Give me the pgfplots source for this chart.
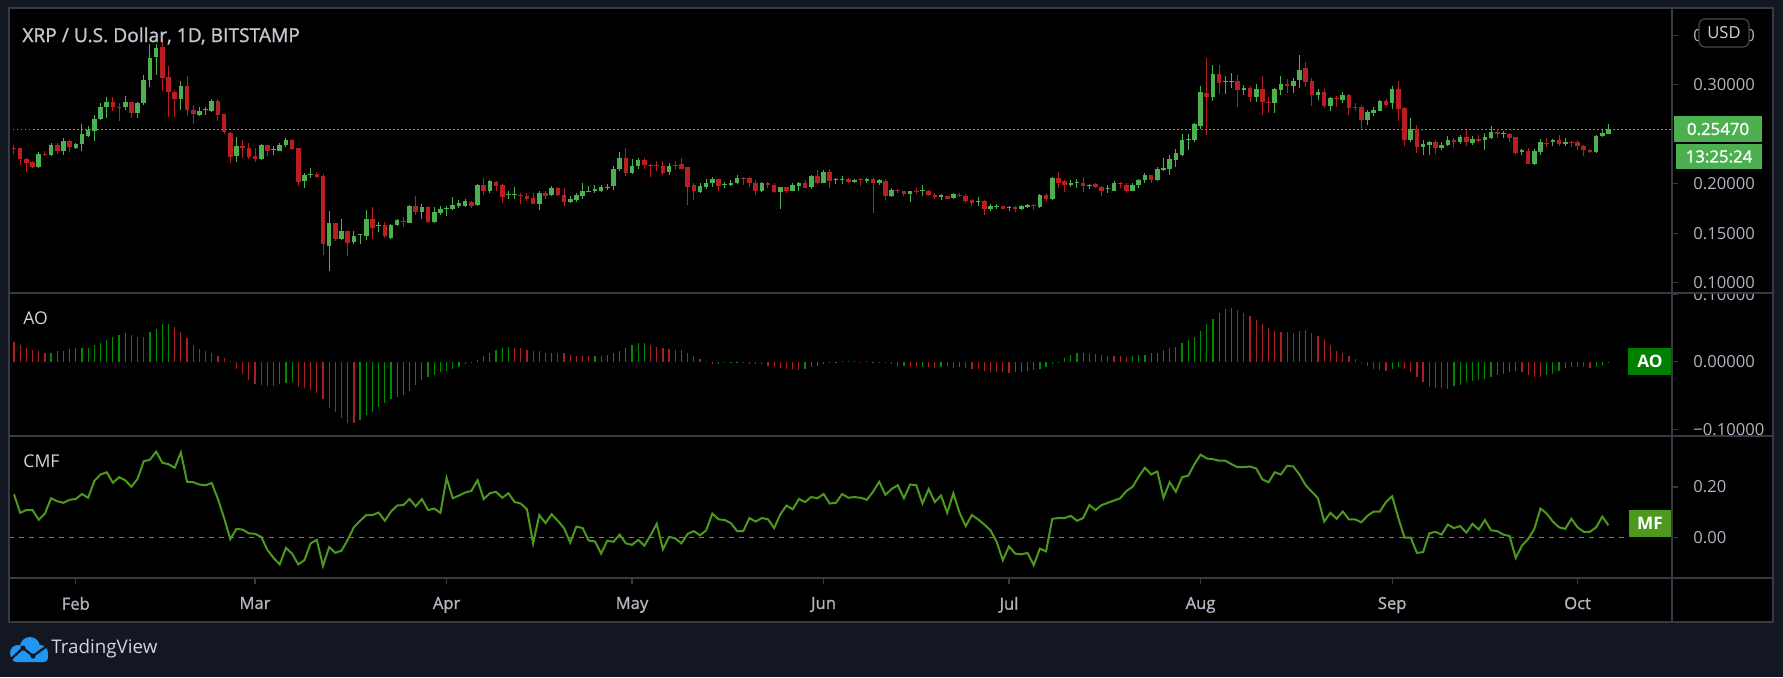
\documentclass[border=0pt]{standalone}
\usepackage{fontspec}
\setmainfont{Open Sans}
\newfontfamily\semib{Open Sans}[FakeBold=1.2]
\usepackage{pgfplots}
\usepackage{pgfplotstable}
\pgfplotsset{compat=1.18}
\definecolor{bgnavy}{RGB}{19,23,34}
\definecolor{framec}{RGB}{54,58,69}
\definecolor{txtlight}{RGB}{209,212,220}
\definecolor{titletxt}{RGB}{196,199,207}
\definecolor{ticktxt}{RGB}{178,181,190}
\definecolor{cgreen}{RGB}{76,175,80}
\definecolor{cred}{RGB}{185,30,32}
\definecolor{aog}{RGB}{0,140,0}
\definecolor{aor}{RGB}{168,32,32}
\definecolor{aobadge}{RGB}{0,128,0}
\definecolor{cmfc}{RGB}{76,153,30}
\definecolor{dashc}{RGB}{120,123,134}
\definecolor{tvblue}{RGB}{33,150,243}
\definecolor{usdline}{RGB}{67,70,81}
\newcommand{\pp}[2]{({(#1)*0.5pt},{(677-(#2))*0.5pt})}
\newcommand{\tfont}{\fontsize{8.3}{10}\selectfont}

\pgfplotstableread{
i o h l c
0 0.2357 0.2386 0.2298 0.2350
1 0.2357 0.2364 0.2187 0.2246
2 0.2246 0.2261 0.2120 0.2209
3 0.2216 0.2224 0.2154 0.2165
4 0.2165 0.2320 0.2154 0.2298
5 0.2298 0.2327 0.2275 0.2290
6 0.2290 0.2408 0.2283 0.2386
7 0.2393 0.2408 0.2298 0.2327
8 0.2327 0.2460 0.2290 0.2430
9 0.2430 0.2445 0.2320 0.2371
10 0.2364 0.2408 0.2349 0.2401
11 0.2401 0.2607 0.2334 0.2497
12 0.2482 0.2578 0.2475 0.2541
13 0.2534 0.2696 0.2430 0.2652
14 0.2652 0.2814 0.2645 0.2770
15 0.2770 0.2873 0.2667 0.2821
16 0.2821 0.2873 0.2733 0.2770
17 0.2777 0.2814 0.2630 0.2770
18 0.2770 0.2888 0.2741 0.2821
19 0.2821 0.2829 0.2659 0.2718
20 0.2718 0.2829 0.2659 0.2814
21 0.2814 0.3095 0.2799 0.3050
22 0.3043 0.3412 0.2976 0.3272
23 0.3279 0.3412 0.3095 0.3368
24 0.3375 0.3478 0.2932 0.3065
25 0.3080 0.3191 0.2674 0.2925
26 0.2925 0.2947 0.2674 0.2858
27 0.2858 0.3035 0.2748 0.2984
28 0.2984 0.3087 0.2681 0.2740
29 0.2740 0.2799 0.2607 0.2703
30 0.2696 0.2777 0.2681 0.2733
31 0.2740 0.2777 0.2696 0.2748
32 0.2733 0.2858 0.2726 0.2836
33 0.2836 0.2851 0.2630 0.2689
34 0.2703 0.2703 0.2497 0.2519
35 0.2512 0.2519 0.2209 0.2268
36 0.2275 0.2475 0.2216 0.2379
37 0.2379 0.2438 0.2261 0.2357
38 0.2364 0.2408 0.2253 0.2268
39 0.2275 0.2357 0.2216 0.2246
40 0.2246 0.2401 0.2238 0.2386
41 0.2386 0.2386 0.2283 0.2327
42 0.2342 0.2379 0.2290 0.2349
43 0.2334 0.2408 0.2327 0.2386
44 0.2386 0.2460 0.2371 0.2438
45 0.2445 0.2452 0.2342 0.2349
46 0.2357 0.2364 0.1980 0.2017
47 0.2024 0.2105 0.1958 0.2083
48 0.2091 0.2157 0.2054 0.2098
49 0.2098 0.2120 0.2054 0.2068
50 0.2080 0.2100 0.1278 0.1395
51 0.1372 0.1721 0.1122 0.1600
52 0.1600 0.1607 0.1423 0.1438
53 0.1445 0.1647 0.1430 0.1526
54 0.1519 0.1526 0.1269 0.1401
55 0.1408 0.1526 0.1394 0.1467
56 0.1478 0.1496 0.1394 0.1485
57 0.1467 0.1732 0.1430 0.1647
58 0.1647 0.1761 0.1438 0.1555
59 0.1568 0.1614 0.1511 0.1572
60 0.1577 0.1614 0.1452 0.1467
61 0.1452 0.1592 0.1445 0.1585
62 0.1577 0.1647 0.1570 0.1629
63 0.1625 0.1658 0.1563 0.1618
64 0.1607 0.1783 0.1600 0.1769
65 0.1769 0.1879 0.1680 0.1717
66 0.1710 0.1798 0.1644 0.1761
67 0.1761 0.1769 0.1607 0.1614
68 0.1614 0.1761 0.1607 0.1717
69 0.1703 0.1776 0.1688 0.1739
70 0.1743 0.1769 0.1673 0.1747
71 0.1747 0.1864 0.1732 0.1783
72 0.1769 0.1835 0.1754 0.1805
73 0.1776 0.1842 0.1761 0.1827
74 0.1813 0.1827 0.1754 0.1776
75 0.1783 0.1997 0.1776 0.1982
76 0.1982 0.2055 0.1886 0.1923
77 0.1923 0.2041 0.1901 0.2026
78 0.2019 0.2026 0.1930 0.1975
79 0.1982 0.1997 0.1805 0.1864
80 0.1886 0.1923 0.1849 0.1890
81 0.1887 0.1967 0.1849 0.1891
82 0.1890 0.1901 0.1798 0.1886
83 0.1879 0.1901 0.1827 0.1849
84 0.1857 0.1901 0.1791 0.1791
85 0.1791 0.1930 0.1732 0.1901
86 0.1908 0.1923 0.1849 0.1871
87 0.1886 0.1975 0.1879 0.1960
88 0.1960 0.1967 0.1871 0.1886
89 0.1886 0.1952 0.1769 0.1813
90 0.1813 0.1871 0.1805 0.1849
91 0.1835 0.1901 0.1813 0.1886
92 0.1871 0.2004 0.1849 0.1923
93 0.1920 0.1974 0.1916 0.1925
94 0.1923 0.1982 0.1908 0.1945
95 0.1930 0.1982 0.1916 0.1967
96 0.1960 0.1997 0.1938 0.1964
97 0.1974 0.2180 0.1938 0.2144
98 0.2144 0.2320 0.2129 0.2261
99 0.2261 0.2364 0.2078 0.2107
100 0.2107 0.2247 0.2100 0.2173
101 0.2180 0.2254 0.2151 0.2239
102 0.2239 0.2261 0.2144 0.2188
103 0.2192 0.2202 0.2063 0.2185
104 0.2184 0.2225 0.2129 0.2180
105 0.2173 0.2225 0.2092 0.2107
106 0.2114 0.2210 0.2092 0.2180
107 0.2190 0.2225 0.2136 0.2185
108 0.2195 0.2254 0.2144 0.2151
109 0.2166 0.2166 0.1783 0.1967
110 0.1982 0.2004 0.1835 0.1923
111 0.1916 0.2004 0.1908 0.1974
112 0.1967 0.2048 0.1945 0.2011
113 0.2011 0.2063 0.1967 0.2048
114 0.2048 0.2048 0.1930 0.1974
115 0.1985 0.2019 0.1952 0.1990
116 0.1982 0.2041 0.1974 0.2011
117 0.2004 0.2085 0.1997 0.2055
118 0.2058 0.2063 0.1989 0.2055
119 0.2055 0.2063 0.1967 0.2011
120 0.2011 0.2033 0.1886 0.1930
121 0.1930 0.2019 0.1916 0.2004
122 0.2011 0.2019 0.1960 0.1982
123 0.1982 0.2004 0.1908 0.1916
124 0.1916 0.1970 0.1739 0.1967
125 0.1967 0.1970 0.1908 0.1923
126 0.1930 0.2004 0.1923 0.1982
127 0.1974 0.2014 0.1930 0.2011
128 0.2011 0.2033 0.1957 0.1960
129 0.1967 0.2092 0.1945 0.2077
130 0.2077 0.2136 0.1997 0.2011
131 0.2011 0.2136 0.2004 0.2114
132 0.2114 0.2144 0.1952 0.2026
133 0.2033 0.2055 0.1997 0.2048
134 0.2038 0.2077 0.1997 0.2041
135 0.2048 0.2055 0.2004 0.2019
136 0.2019 0.2048 0.2011 0.2041
137 0.2043 0.2055 0.1974 0.2040
138 0.2026 0.2055 0.2011 0.2048
139 0.2048 0.2055 0.1702 0.2011
140 0.2011 0.2048 0.1989 0.2041
141 0.2026 0.2048 0.1835 0.1871
142 0.1871 0.1952 0.1864 0.1938
143 0.1935 0.1945 0.1908 0.1930
144 0.1923 0.1930 0.1871 0.1894
145 0.1894 0.1930 0.1813 0.1923
146 0.1925 0.1952 0.1893 0.1921
147 0.1927 0.1982 0.1871 0.1932
148 0.1930 0.1938 0.1871 0.1886
149 0.1886 0.1901 0.1849 0.1864
150 0.1864 0.1893 0.1835 0.1886
151 0.1879 0.1879 0.1842 0.1849
152 0.1857 0.1901 0.1842 0.1893
153 0.1890 0.1901 0.1864 0.1886
154 0.1879 0.1893 0.1805 0.1822
155 0.1835 0.1842 0.1776 0.1805
156 0.1813 0.1864 0.1776 0.1827
157 0.1820 0.1835 0.1688 0.1747
158 0.1747 0.1798 0.1725 0.1776
159 0.1765 0.1791 0.1747 0.1769
160 0.1769 0.1776 0.1739 0.1747
161 0.1751 0.1776 0.1725 0.1754
162 0.1761 0.1769 0.1710 0.1739
163 0.1747 0.1783 0.1732 0.1769
164 0.1761 0.1791 0.1754 0.1783
165 0.1780 0.1798 0.1732 0.1776
166 0.1761 0.1893 0.1754 0.1886
167 0.1886 0.1901 0.1820 0.1849
168 0.1849 0.2070 0.1835 0.2055
169 0.2055 0.2114 0.1952 0.2011
170 0.2026 0.2041 0.1916 0.1982
171 0.1982 0.2041 0.1967 0.2011
172 0.2004 0.2048 0.1960 0.2007
173 0.2011 0.2063 0.1916 0.1974
174 0.1974 0.1997 0.1945 0.1989
175 0.1997 0.2004 0.1952 0.1967
176 0.1967 0.1974 0.1871 0.1930
177 0.1942 0.1982 0.1908 0.1945
178 0.1930 0.2026 0.1923 0.2004
179 0.2004 0.2019 0.1960 0.1995
180 0.1989 0.2004 0.1901 0.1930
181 0.1930 0.2011 0.1923 0.1989
182 0.1982 0.2048 0.1960 0.2033
183 0.2033 0.2107 0.2011 0.2085
184 0.2085 0.2092 0.2011 0.2033
185 0.2033 0.2166 0.2026 0.2151
186 0.2136 0.2254 0.2129 0.2158
187 0.2144 0.2291 0.2085 0.2247
188 0.2239 0.2350 0.2166 0.2305
189 0.2291 0.2497 0.2283 0.2438
190 0.2438 0.2497 0.2335 0.2452
191 0.2438 0.2614 0.2416 0.2599
192 0.2585 0.2982 0.2548 0.2923
193 0.2916 0.3269 0.2489 0.2872
194 0.2879 0.3202 0.2835 0.3107
195 0.3107 0.3195 0.2901 0.3019
196 0.3023 0.3085 0.2901 0.3026
197 0.3030 0.3122 0.2967 0.3033
198 0.3033 0.3100 0.2776 0.2945
199 0.2945 0.2997 0.2894 0.2967
200 0.2967 0.2989 0.2820 0.2872
201 0.2872 0.3004 0.2820 0.2952
202 0.2952 0.3085 0.2695 0.2820
203 0.2822 0.2879 0.2710 0.2818
204 0.2813 0.2967 0.2717 0.2952
205 0.2945 0.3085 0.2894 0.3004
206 0.3011 0.3055 0.2916 0.2982
207 0.2982 0.3063 0.2916 0.3041
208 0.3048 0.3298 0.2967 0.3151
209 0.3166 0.3224 0.2975 0.3026
210 0.3033 0.3063 0.2783 0.2894
211 0.2894 0.2952 0.2842 0.2923
212 0.2923 0.2960 0.2761 0.2783
213 0.2783 0.2872 0.2732 0.2864
214 0.2866 0.2886 0.2776 0.2862
215 0.2842 0.2923 0.2813 0.2894
216 0.2894 0.2901 0.2695 0.2761
217 0.2770 0.2813 0.2732 0.2766
218 0.2776 0.2791 0.2548 0.2644
219 0.2644 0.2739 0.2592 0.2725
220 0.2710 0.2769 0.2688 0.2747
221 0.2732 0.2842 0.2732 0.2835
222 0.2835 0.2857 0.2769 0.2798
223 0.2813 0.2989 0.2754 0.2952
224 0.2952 0.3041 0.2636 0.2754
225 0.2761 0.2776 0.2379 0.2445
226 0.2438 0.2658 0.2416 0.2548
227 0.2548 0.2592 0.2313 0.2372
228 0.2372 0.2438 0.2291 0.2401
229 0.2394 0.2430 0.2291 0.2423
230 0.2423 0.2438 0.2298 0.2364
231 0.2357 0.2423 0.2335 0.2386
232 0.2386 0.2482 0.2379 0.2438
233 0.2445 0.2460 0.2364 0.2423
234 0.2416 0.2489 0.2401 0.2475
235 0.2475 0.2541 0.2379 0.2416
236 0.2408 0.2482 0.2394 0.2452
237 0.2452 0.2489 0.2416 0.2430
238 0.2438 0.2511 0.2342 0.2467
239 0.2460 0.2585 0.2452 0.2526
240 0.2526 0.2555 0.2460 0.2497
241 0.2502 0.2533 0.2460 0.2505
242 0.2504 0.2511 0.2423 0.2460
243 0.2467 0.2475 0.2291 0.2305
244 0.2320 0.2350 0.2291 0.2342
245 0.2328 0.2357 0.2195 0.2202
246 0.2202 0.2350 0.2188 0.2328
247 0.2320 0.2452 0.2291 0.2416
248 0.2412 0.2460 0.2372 0.2408
249 0.2416 0.2452 0.2379 0.2438
250 0.2438 0.2489 0.2379 0.2401
251 0.2401 0.2460 0.2379 0.2423
252 0.2425 0.2430 0.2372 0.2421
253 0.2416 0.2445 0.2335 0.2379
254 0.2379 0.2394 0.2283 0.2342
255 0.2342 0.2350 0.2313 0.2320
256 0.2320 0.2489 0.2313 0.2482
257 0.2482 0.2541 0.2467 0.2511
258 0.2504 0.2599 0.2504 0.2547
}\candles

\pgfplotstableread{
i ao d
0 0.0297 0
1 0.0254 0
2 0.0210 0
3 0.0178 0
4 0.0156 0
5 0.0124 0
6 0.0126 1
7 0.0156 1
8 0.0167 1
9 0.0189 1
10 0.0200 1
11 0.0202 1
12 0.0210 1
13 0.0243 1
14 0.0286 1
15 0.0329 1
16 0.0372 1
17 0.0394 1
18 0.0426 1
19 0.0405 0
20 0.0372 0
21 0.0370 0
22 0.0437 1
23 0.0491 1
24 0.0556 1
25 0.0566 1
26 0.0512 0
27 0.0448 0
28 0.0351 0
29 0.0243 0
30 0.0189 0
31 0.0156 0
32 0.0135 0
33 0.0092 0
34 0.0059 0
35 0.0005 0
36 -0.0102 0
37 -0.0183 0
38 -0.0275 0
39 -0.0329 0
40 -0.0351 0
41 -0.0352 0
42 -0.0353 0
43 -0.0329 1
44 -0.0318 1
45 -0.0297 1
46 -0.0372 0
47 -0.0383 0
48 -0.0415 0
49 -0.0458 0
50 -0.0556 0
51 -0.0680 0
52 -0.0739 0
53 -0.0836 0
54 -0.0912 0
55 -0.0913 0
56 -0.0858 1
57 -0.0793 1
58 -0.0739 1
59 -0.0669 1
60 -0.0615 1
61 -0.0556 1
62 -0.0518 1
63 -0.0491 1
64 -0.0426 1
65 -0.0351 1
66 -0.0275 1
67 -0.0232 1
68 -0.0189 1
69 -0.0156 1
70 -0.0140 1
71 -0.0113 1
72 -0.0081 1
73 -0.0038 1
74 -0.0022 1
75 0.0032 1
76 0.0081 1
77 0.0135 1
78 0.0178 1
79 0.0210 1
80 0.0221 1
81 0.0210 0
82 0.0200 0
83 0.0178 0
84 0.0167 0
85 0.0156 0
86 0.0132 0
87 0.0137 1
88 0.0133 0
89 0.0124 0
90 0.0102 0
91 0.0092 0
92 0.0090 0
93 0.0081 0
94 0.0083 1
95 0.0092 1
96 0.0102 1
97 0.0124 1
98 0.0167 1
99 0.0200 1
100 0.0243 1
101 0.0275 1
102 0.0286 1
103 0.0254 0
104 0.0221 0
105 0.0210 0
106 0.0194 0
107 0.0178 0
108 0.0180 1
109 0.0135 0
110 0.0092 0
111 0.0043 0
112 0.0016 0
113 -0.0038 0
114 -0.0036 1
115 -0.0022 1
116 -0.0020 1
117 -0.0011 1
118 -0.0022 0
119 -0.0027 0
120 -0.0030 0
121 -0.0038 0
122 -0.0059 0
123 -0.0070 0
124 -0.0092 0
125 -0.0102 0
126 -0.0113 0
127 -0.0115 0
128 -0.0112 1
129 -0.0081 1
130 -0.0059 1
131 -0.0038 1
132 -0.0011 1
133 -0.0005 1
134 0.0016 1
135 0.0014 0
136 0.0012 0
137 -0.0005 0
138 0.0016 1
139 -0.0005 0
140 -0.0016 0
141 -0.0022 0
142 -0.0038 0
143 -0.0076 0
144 -0.0059 1
145 -0.0081 0
146 -0.0083 0
147 -0.0081 1
148 -0.0083 0
149 -0.0085 0
150 -0.0081 1
151 -0.0083 0
152 -0.0085 0
153 -0.0081 1
154 -0.0092 0
155 -0.0102 0
156 -0.0105 0
157 -0.0135 0
158 -0.0146 0
159 -0.0156 0
160 -0.0158 0
161 -0.0160 0
162 -0.0157 1
163 -0.0146 1
164 -0.0135 1
165 -0.0124 1
166 -0.0102 1
167 -0.0081 1
168 -0.0038 1
169 -0.0005 1
170 0.0059 1
171 0.0102 1
172 0.0135 1
173 0.0137 1
174 0.0124 0
175 0.0122 0
176 0.0102 0
177 0.0092 0
178 0.0090 0
179 0.0088 0
180 0.0070 0
181 0.0092 1
182 0.0102 1
183 0.0104 1
184 0.0124 1
185 0.0135 1
186 0.0178 1
187 0.0210 1
188 0.0221 1
189 0.0286 1
190 0.0329 1
191 0.0372 1
192 0.0458 1
193 0.0556 1
194 0.0642 1
195 0.0728 1
196 0.0782 1
197 0.0804 1
198 0.0771 0
199 0.0728 0
200 0.0674 0
201 0.0620 0
202 0.0566 0
203 0.0502 0
204 0.0458 0
205 0.0448 0
206 0.0437 0
207 0.0426 0
208 0.0458 1
209 0.0469 1
210 0.0426 0
211 0.0383 0
212 0.0340 0
213 0.0254 0
214 0.0156 0
215 0.0135 0
216 0.0092 0
217 0.0038 0
218 -0.0005 0
219 -0.0059 0
220 -0.0102 0
221 -0.0124 0
222 -0.0135 0
223 -0.0102 1
224 -0.0081 1
225 -0.0113 0
226 -0.0156 0
227 -0.0221 0
228 -0.0297 0
229 -0.0372 0
230 -0.0394 0
231 -0.0396 0
232 -0.0405 0
233 -0.0361 1
234 -0.0340 1
235 -0.0307 1
236 -0.0286 1
237 -0.0264 1
238 -0.0254 1
239 -0.0221 1
240 -0.0200 1
241 -0.0178 1
242 -0.0146 1
243 -0.0135 1
244 -0.0156 0
245 -0.0200 0
246 -0.0221 0
247 -0.0223 0
248 -0.0200 1
249 -0.0178 1
250 -0.0135 1
251 -0.0092 1
252 -0.0081 1
253 -0.0079 1
254 -0.0081 0
255 -0.0092 0
256 -0.0081 1
257 -0.0049 1
258 -0.0016 1
}\aotab

\pgfplotstableread{
i v
0 0.171
1 0.097
2 0.108
3 0.108
4 0.069
5 0.094
6 0.155
7 0.143
8 0.137
9 0.149
10 0.152
11 0.172
12 0.157
13 0.224
14 0.250
15 0.259
16 0.217
17 0.239
18 0.227
19 0.201
20 0.233
21 0.303
22 0.309
23 0.341
24 0.297
25 0.291
26 0.277
27 0.338
28 0.221
29 0.219
30 0.210
31 0.207
32 0.216
33 0.152
34 0.076
35 -0.008
36 0.033
37 0.030
38 0.015
39 0.013
40 0.001
41 -0.051
42 -0.083
43 -0.109
44 -0.043
45 -0.066
46 -0.109
47 -0.092
48 -0.025
49 -0.011
50 -0.115
51 -0.040
52 -0.063
53 -0.054
54 -0.011
55 0.040
56 0.065
57 0.088
58 0.088
59 0.098
60 0.065
61 0.102
62 0.126
63 0.128
64 0.152
65 0.123
66 0.152
67 0.108
68 0.114
69 0.097
70 0.236
71 0.155
72 0.166
73 0.178
74 0.184
75 0.227
76 0.152
77 0.175
78 0.181
79 0.157
80 0.175
81 0.140
82 0.134
83 0.111
84 -0.025
85 0.088
86 0.056
87 0.091
88 0.065
89 0.036
90 -0.022
91 0.042
92 0.036
93 -0.014
94 -0.017
95 -0.066
96 -0.014
97 -0.019
98 0.010
99 -0.025
100 -0.031
101 -0.011
102 -0.034
103 0.007
104 0.053
105 -0.049
106 0.001
107 -0.005
108 -0.025
109 0.013
110 0.024
111 0.007
112 0.027
113 0.094
114 0.071
115 0.068
116 0.056
117 0.024
118 0.024
119 0.076
120 0.062
121 0.076
122 0.071
123 0.036
124 0.091
125 0.126
126 0.111
127 0.152
128 0.140
129 0.160
130 0.155
131 0.172
132 0.134
133 0.137
134 0.172
135 0.157
136 0.160
137 0.157
138 0.149
139 0.181
140 0.221
141 0.169
142 0.192
143 0.207
144 0.155
145 0.210
146 0.207
147 0.134
148 0.192
149 0.140
150 0.166
151 0.097
152 0.175
153 0.097
154 0.044
155 0.088
156 0.071
157 0.050
158 0.027
159 -0.019
160 -0.092
161 -0.037
162 -0.066
163 -0.069
164 -0.063
165 -0.112
166 -0.046
167 -0.057
168 0.073
169 0.076
170 0.076
171 0.085
172 0.065
173 0.076
174 0.128
175 0.108
176 0.128
177 0.137
178 0.146
179 0.155
180 0.184
181 0.201
182 0.242
183 0.277
184 0.250
185 0.262
186 0.157
187 0.219
188 0.181
189 0.239
190 0.245
191 0.291
192 0.329
193 0.314
194 0.311
195 0.305
196 0.305
197 0.291
198 0.279
199 0.279
200 0.282
201 0.274
202 0.230
203 0.219
204 0.259
205 0.250
206 0.285
207 0.282
208 0.250
209 0.207
210 0.181
211 0.155
212 0.062
213 0.097
214 0.073
215 0.102
216 0.071
217 0.071
218 0.059
219 0.085
220 0.102
221 0.102
222 0.140
223 0.163
224 0.076
225 -0.002
226 -0.002
227 -0.063
228 -0.060
229 0.015
230 0.021
231 0.010
232 0.050
233 0.036
234 0.044
235 0.018
236 0.053
237 0.030
238 0.068
239 0.027
240 0.024
241 0.010
242 0.004
243 -0.083
244 -0.034
245 -0.008
246 0.033
247 0.114
248 0.094
249 0.062
250 0.039
251 0.033
252 0.073
253 0.039
254 0.021
255 0.021
256 0.039
257 0.082
258 0.047
}\cmftab

\pgfplotsset{tvpane/.style={
  scale only axis, anchor=south west, width=831.5pt,
  xmin=-0.809, xmax=268.28,
  axis line style={draw=none},
  ytick pos=right, yticklabel pos=right,
  tick align=outside, major tick length=3pt,
  tick style={draw=framec, line width=0.6pt},
  yticklabel style={font=\tfont, text=ticktxt, anchor=west, xshift=4.2pt},
  clip=true,
}}

\begin{document}
\begin{tikzpicture}
\useasboundingbox \pp{0}{0} rectangle \pp{1783}{677};
\fill[bgnavy] \pp{0}{0} rectangle \pp{1783}{677};
\fill[black] \pp{9}{8} rectangle \pp{1773}{622};

% ---- AO pane ----
\begin{axis}[tvpane, at={(4.5pt,120.5pt)}, height=71.5pt,
  ymin=-0.1101, ymax=0.1021, xtick=\empty,
  ytick={-0.1,0,0.1}, yticklabels={−0.10000,0.00000,0.10000}]
\addplot[ycomb, draw=aog, line width=0.6pt, mark=none,
  restrict expr to domain={\thisrow{d}}{0.5:1.5}] table[x=i,y=ao]{\aotab};
\addplot[ycomb, draw=aor, line width=0.6pt, mark=none,
  restrict expr to domain={\thisrow{d}}{-0.5:0.5}] table[x=i,y=ao]{\aotab};
\end{axis}

% ---- CMF pane ----
\begin{axis}[tvpane, at={(4.5pt,49.5pt)}, height=71pt,
  ymin=-0.1633, ymax=0.4036,
  ytick={0,0.2}, yticklabels={0.00,0.20},
  xtick={10,39,70,100,131,161,192,223,253},
  xticklabels={Feb,Mar,Apr,May,Jun,Jul,Aug,Sep,Oct},
  xtick pos=bottom,
  xticklabel style={font=\semib\fontsize{8.3}{10}\selectfont, text=ticktxt, anchor=north, yshift=-3pt}]
\draw[dashc, dash pattern=on 2.5pt off 2.5pt, line width=0.5pt] (axis cs:-0.809,0) -- (axis cs:261.2,0);
\addplot[draw=cmfc, line width=1pt, mark=none] table[x=i,y=v]{\cmftab};
\end{axis}

% hide the upper half of the AO 0.10000 label
\fill[black] \pp{1673}{9} rectangle \pp{1772}{293};

% ---- Price pane ----
\begin{axis}[tvpane, at={(4.5pt,192pt)}, height=142.5pt,
  ymin=0.0895, ymax=0.3774, xtick=\empty,
  ytick={0.10,0.15,0.20,0.30,0.35},
  yticklabels={0.10000,0.15000,0.20000,0.30000,0.35000}]
\draw[cgreen, dash pattern=on 0.75pt off 1.25pt, line width=0.7pt] (axis cs:-0.809,0.2547) -- (axis cs:268.28,0.2547);
% wicks: low to high (a zero-length vector draws nothing)
\addplot[draw=cgreen, line width=0.5pt, mark=none,
  quiver={u=0, v={\thisrow{c}<\thisrow{o} ? 0 : \thisrow{h}-\thisrow{l}}}]
  table[x=i, y=l]{\candles};
\addplot[draw=cred, line width=0.5pt, mark=none,
  quiver={u=0, v={\thisrow{c}<\thisrow{o} ? \thisrow{h}-\thisrow{l} : 0}}]
  table[x=i, y=l]{\candles};
% bodies: open to close
\addplot[draw=cgreen, line width=2.3pt, mark=none,
  quiver={u=0, v={\thisrow{c}<\thisrow{o} ? 0 : max(\thisrow{c}-\thisrow{o},0.001)}}]
  table[x=i, y=o]{\candles};
\addplot[draw=cred, line width=2.3pt, mark=none,
  quiver={u=0, v={\thisrow{c}<\thisrow{o} ? min(\thisrow{c}-\thisrow{o},-0.001) : 0}}]
  table[x=i, y=o]{\candles};
\end{axis}

% ---- frame and separators ----
\draw[framec, line width=0.75pt] \pp{9}{8} rectangle \pp{1773}{622};
\draw[framec, line width=0.75pt] \pp{9}{293} -- \pp{1773}{293};
\draw[framec, line width=0.75pt] \pp{9}{436} -- \pp{1773}{436};
\draw[framec, line width=0.75pt] \pp{9}{578} -- \pp{1773}{578};
\draw[framec, line width=0.75pt] \pp{1672}{8} -- \pp{1672}{622};

% ---- badges ----
\fill[cgreen] \pp{1674}{116} rectangle \pp{1762}{142};
\node[text=white, font=\semib\fontsize{8.4}{10}\selectfont] at \pp{1718}{129} {0.25470};
\fill[cgreen] \pp{1676}{144} rectangle \pp{1762}{169};
\node[text=white, font=\semib\fontsize{8.4}{10}\selectfont] at \pp{1719}{156.5} {13:25:24};
\draw[usdline, fill=black, line width=0.6pt, rounded corners=3pt] \pp{1699}{19} rectangle \pp{1749}{47};
\node[text=txtlight, font=\tfont] at \pp{1724}{33} {USD};
\fill[aobadge] \pp{1628}{348} rectangle \pp{1671}{375};
\node[text=white, font=\fontsize{8.6}{10}\selectfont\bfseries] at \pp{1650}{361.5} {AO};
\fill[cmfc] \pp{1629}{510} rectangle \pp{1671}{537};
\node[text=white, font=\fontsize{8.6}{10}\selectfont\bfseries] at \pp{1650}{523.5} {MF};

% ---- titles ----
\node[anchor=west, text=titletxt, font=\semib\fontsize{9.6}{11}\selectfont, inner sep=0pt] at \pp{22}{36} {XRP / U.S. Dollar, 1D, BITSTAMP};
\node[anchor=west, text=txtlight, font=\fontsize{8.8}{10}\selectfont, inner sep=0pt] at \pp{23}{318} {AO};
\node[anchor=west, text=txtlight, font=\fontsize{8.8}{10}\selectfont, inner sep=0pt] at \pp{23}{461} {CMF};

% ---- TradingView logo ----
\fill[tvblue] \pp{18}{653} circle (4pt);
\fill[tvblue] \pp{30}{647} circle (5pt);
\fill[tvblue] \pp{40}{653} circle (4pt);
\fill[tvblue, rounded corners=2pt] \pp{12}{651} rectangle \pp{48}{662};
\draw[bgnavy, line width=1.1pt, line join=round] \pp{9}{661} -- \pp{23}{648} -- \pp{33}{656} -- \pp{47}{646};
\fill[bgnavy] \pp{23}{648} circle (1.3pt);
\fill[bgnavy] \pp{33}{656} circle (1.3pt);
\node[anchor=west, text=txtlight, font=\fontsize{9.4}{11}\selectfont, inner sep=0pt] at \pp{51}{649} {TradingView};
\end{tikzpicture}
\end{document}
